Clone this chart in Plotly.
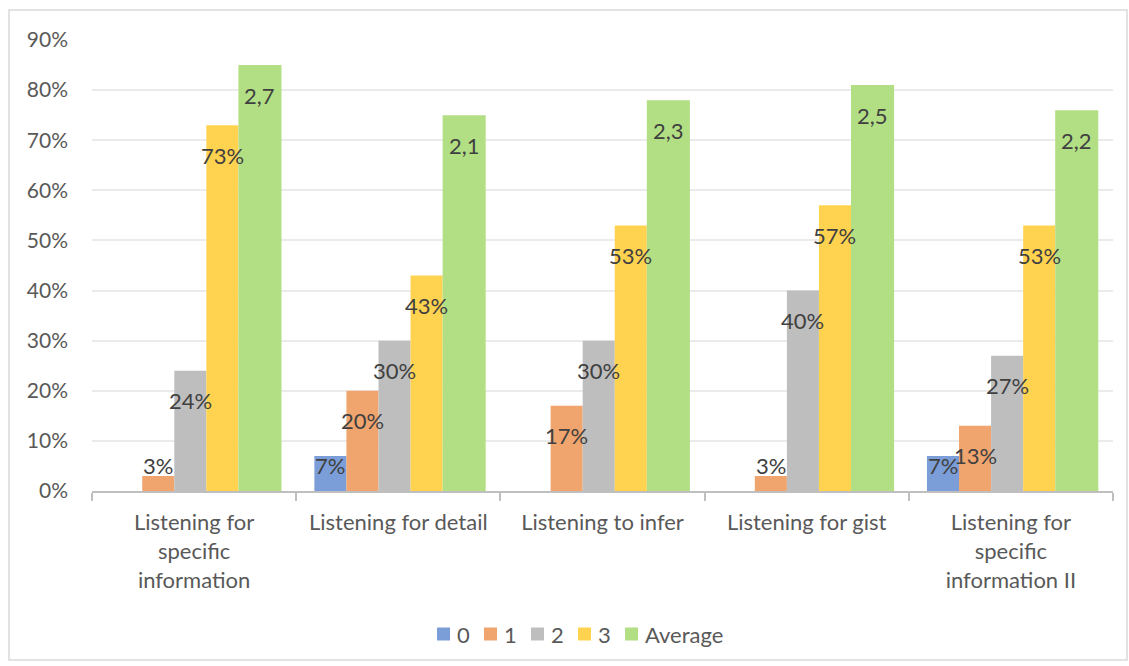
import plotly.graph_objects as go

categories = [
    "Listening for<br>specific<br>information",
    "Listening for detail",
    "Listening to infer",
    "Listening for gist",
    "Listening for<br>specific<br>information II",
]
score_0 = [0.00, 0.07, 0.00, 0.00, 0.07]
score_1 = [0.03, 0.20, 0.17, 0.03, 0.13]
score_2 = [0.24, 0.30, 0.30, 0.40, 0.27]
score_3 = [0.73, 0.43, 0.53, 0.57, 0.53]
average_pct = [0.85, 0.75, 0.78, 0.81, 0.76]
average_score = [2.7, 2.1, 2.3, 2.5, 2.2]
y_ticks = [0, 0.1, 0.2, 0.3, 0.4, 0.5, 0.6, 0.7, 0.8, 0.9]

FONT = "Lato, 'Open Sans', sans-serif"
TEXT = "#404040"
AXIS_TEXT = "#595959"

W, H = 1129, 666
M_L, M_R, M_T, M_B = 92, 16, 40, 175
PLOT_W = W - M_L - M_R
PLOT_H = H - M_T - M_B

def px_to_paper(px, py):
    return (px - M_L) / PLOT_W, (H - M_B - py) / PLOT_H

# name, values, colour, offset (category units), width
series = [
    ("0", score_0, "#7C9ED8", -0.411, 0.157),
    ("1", score_1, "#F0A46E", -0.254, 0.157),
    ("2", score_2, "#BEBEBE", -0.097, 0.157),
    ("3", score_3, "#FFD34F", 0.060, 0.157),
    ("Average", average_pct, "#B2DF84", 0.217, 0.211),
]

fig = go.Figure()
for name, vals, color, off, w in series:
    fig.add_trace(go.Bar(
        x=categories, y=vals, name=name, offset=off, width=w,
        marker=dict(color=color, line=dict(width=0)), showlegend=False,
    ))

def label_y(v):
    # inside-end labels, kept above the axis for very short bars
    return max(v - 0.06, 0.05)

annotations = []
for name, vals, color, off, w in series:
    for i, v in enumerate(vals):
        if v <= 0:
            continue
        if name == "Average":
            txt = f"{average_score[i]:.1f}".replace(".", ",")
        else:
            txt = f"{round(v * 100)}%"
        annotations.append(dict(
            x=i + off + w / 2, y=label_y(v), xref="x", yref="y",
            text=txt, showarrow=False, xanchor="center", yanchor="middle",
            font=dict(family=FONT, size=22, color=TEXT),
        ))

# chart-area border
bx0, by0 = px_to_paper(9, 660)
bx1, by1 = px_to_paper(1127, 10)
shapes = [dict(
    type="rect", xref="paper", yref="paper",
    x0=bx0, x1=bx1, y0=by0, y1=by1,
    line=dict(color="#D9D9D9", width=1.5), fillcolor="rgba(0,0,0,0)",
    layer="below",
)]

# compact legend row below the axis
LEG_X, LEG_Y, LEG_STEP, SWATCH = 437, 634, 47, 13
for k, (name, vals, color, off, w) in enumerate(series):
    sx = LEG_X + k * LEG_STEP
    x0, y0 = px_to_paper(sx, LEG_Y + SWATCH / 2)
    x1, y1 = px_to_paper(sx + SWATCH, LEG_Y - SWATCH / 2)
    shapes.append(dict(type="rect", xref="paper", yref="paper",
                       x0=x0, x1=x1, y0=y0, y1=y1,
                       line=dict(width=0), fillcolor=color))
    tx, ty = px_to_paper(sx + SWATCH + 5, LEG_Y)
    annotations.append(dict(
        x=tx, y=ty, xref="paper", yref="paper", text=name, showarrow=False,
        xanchor="left", yanchor="middle",
        font=dict(family=FONT, size=22, color=AXIS_TEXT),
    ))

fig.update_layout(
    width=W, height=H,
    margin=dict(l=M_L, r=M_R, t=M_T, b=M_B),
    paper_bgcolor="white", plot_bgcolor="white",
    barmode="overlay",
    annotations=annotations,
    shapes=shapes,
    font=dict(family=FONT, color=AXIS_TEXT),
    xaxis=dict(
        type="category", range=[-0.5, 4.5],
        showline=True, linecolor="#BFBFBF", linewidth=2,
        ticks="outside", tickson="boundaries", ticklen=8, tickwidth=2,
        tickcolor="#BFBFBF", showgrid=False,
        tickfont=dict(family=FONT, size=22, color=AXIS_TEXT),
        ticklabelstandoff=11,
    ),
    yaxis=dict(
        range=[0, 0.9], tickvals=y_ticks, tickformat=".0%",
        showgrid=True, gridcolor="#EBEBEB", gridwidth=2,
        zeroline=False, showline=False,
        tickfont=dict(family=FONT, size=21, color=AXIS_TEXT),
        ticklabelstandoff=23,
    ),
)

fig.write_html("out.html")
